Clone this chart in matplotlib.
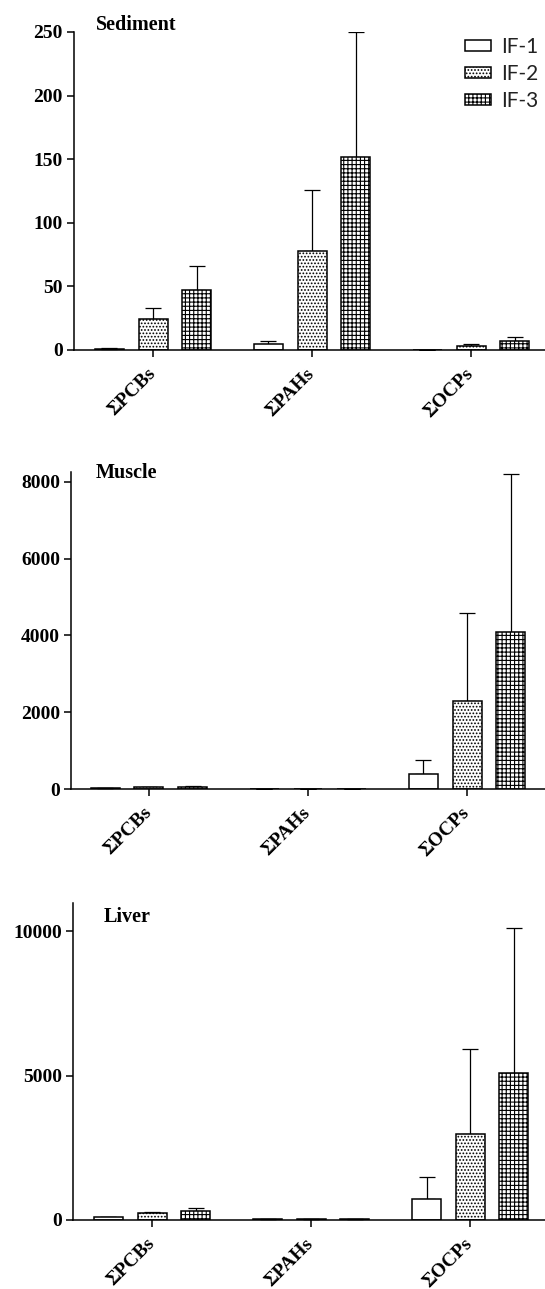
import matplotlib
matplotlib.use('Agg')
import matplotlib.pyplot as plt
import numpy as np

# groups and series
groups = ['ΣPCBs', 'ΣPAHs', 'ΣOCPs']
series = ['IF-1', 'IF-2', 'IF-3']
hatches = ['', '.....', '++++']

# sediment: means and upper error (SD), one row per series
sed_mean = [[1, 5, 0], [24, 78, 3], [47, 152, 7]]
sed_err = [[0.8, 2, 0], [9, 48, 2], [19, 98, 3]]

# muscle
mus_mean = [[15, 0, 383], [40, 0, 2300], [55, 0, 4100]]
mus_err = [[5, 0, 372], [10, 0, 2278], [30, 0, 4100]]

# liver
liv_mean = [[100, 20, 730], [240, 25, 2965], [310, 25, 5075]]
liv_err = [[0, 0, 750], [40, 0, 2965], [120, 0, 5035]]

panels = [
    ('Sediment', sed_mean, sed_err, [0, 50, 100, 150, 200, 250], 250),
    ('Muscle', mus_mean, mus_err, [0, 2000, 4000, 6000, 8000], 8260),
    ('Liver', liv_mean, liv_err, [0, 5000, 10000], 10970),
]

plt.rcParams['hatch.linewidth'] = 0.8

W, H = 545, 1289
fig = plt.figure(figsize=(W / 100, H / 100), dpi=100)

# axes boxes in pixels: left, top, bottom ; x limits per panel
boxes = [(74, 32, 350), (71, 472, 789), (73, 903, 1220)]
xlims = [(-0.497, 2.465), (-0.49, 2.49), (-0.497, 2.47)]
title_pos = [(96, 30), (96, 478), (104, 922)]

serif = ['Liberation Serif', 'DejaVu Serif']
x = np.arange(len(groups))
offs = [-0.274, 0, 0.274]
width = 0.182

for i, (name, means, errs, yticks, ytop) in enumerate(panels):
    l, t, b = boxes[i]
    ax = fig.add_axes([l / W, 1 - b / H, (W - l) / W, (b - t) / H])
    for s in range(3):
        ax.bar(x + offs[s], means[s], width, color='white', edgecolor='black',
               hatch=hatches[s], linewidth=1.1, label=series[s], zorder=2)
        ax.errorbar(x + offs[s], means[s], yerr=[np.zeros(3), errs[s]], fmt='none',
                    ecolor='black', elinewidth=0.9, capsize=6, capthick=0.9, zorder=1)
    ax.set_xlim(*xlims[i])
    ax.set_ylim(0, ytop)
    ax.set_yticks(yticks)
    ax.set_yticklabels([str(v) for v in yticks], fontfamily=serif, fontweight='bold', fontsize=14)
    ax.set_xticks(x)
    ax.set_xticklabels(groups, fontfamily=serif, fontweight='bold', fontsize=14,
                       rotation=45, ha='right', va='center', rotation_mode='anchor')
    ax.spines['top'].set_visible(False)
    ax.spines['right'].set_visible(False)
    ax.spines['left'].set_linewidth(1.1)
    ax.spines['bottom'].set_linewidth(1.1)
    ax.tick_params(axis='both', direction='out', length=5, width=1.1)
    ax.tick_params(axis='y', pad=3)
    ax.tick_params(axis='x', pad=10)
    tx, ty = title_pos[i]
    fig.text(tx / W, 1 - ty / H, name, fontfamily=serif, fontweight='bold',
             fontsize=14.5, va='baseline', ha='left')
    if i == 0:
        ax.legend(loc='upper left', bbox_to_anchor=(465 / W, 1 - 37 / H),
                  bbox_transform=fig.transFigure, frameon=False, borderpad=0,
                  borderaxespad=0, handlelength=1.24, handleheight=0.42,
                  handletextpad=0.5, labelspacing=0.33,
                  prop={'family': ['Lato', 'DejaVu Sans'], 'size': 15},
                  labelcolor='#222222')

fig.savefig('out.png', dpi=100)
